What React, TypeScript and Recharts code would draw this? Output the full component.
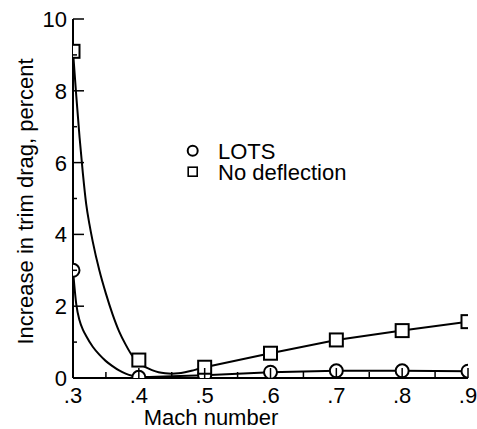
import { ComposedChart, Line, XAxis, YAxis, Legend } from "recharts";

// marker data
const mach = [0.3, 0.4, 0.5, 0.6, 0.7, 0.8, 0.9];
const lotsDrag = [3.0, 0.02, 0.08, 0.16, 0.2, 0.2, 0.19];
const noDeflDrag = [9.1, 0.5, 0.3, 0.69, 1.06, 1.32, 1.57];

// faired curves (low Mach end)
const lotsFitMach = [0.3, 0.305, 0.31, 0.315, 0.32, 0.33, 0.34, 0.35, 0.36, 0.37, 0.38, 0.39, 0.4, 0.45, 0.5];
const lotsFitDrag = [3.0, 2.05, 1.6, 1.35, 1.17, 0.87, 0.65, 0.47, 0.33, 0.21, 0.12, 0.06, 0.03, 0.05, 0.08];
const noDeflFitMach = [0.3, 0.305, 0.31, 0.315, 0.32, 0.325, 0.33, 0.34, 0.35, 0.36, 0.37, 0.38, 0.39, 0.4, 0.41, 0.42, 0.43, 0.44, 0.45, 0.46, 0.47, 0.48, 0.49, 0.5];
const noDeflFitDrag = [9.1, 7.85, 6.7, 5.7, 4.85, 4.28, 3.8, 3.0, 2.35, 1.78, 1.3, 0.93, 0.62, 0.42, 0.3, 0.22, 0.16, 0.13, 0.12, 0.13, 0.16, 0.2, 0.25, 0.3];

const machTicks = [0.3, 0.35, 0.4, 0.45, 0.5, 0.55, 0.6, 0.65, 0.7, 0.75, 0.8, 0.85, 0.9];
const dragTicks = [0, 1, 2, 3, 4, 5, 6, 7, 8, 9, 10];
const seriesNames = ["LOTS", "No deflection"];

const pts = (xs: number[], ys: number[]) => xs.map((x, i) => ({ x, y: ys[i] }));

const lotsPts = pts(mach, lotsDrag);
const noDeflPts = pts(mach, noDeflDrag);
const lotsFit = pts(lotsFitMach, lotsFitDrag);
const noDeflFit = pts(noDeflFitMach, noDeflFitDrag);

const FONT = "'Liberation Sans', Arial, Helvetica, sans-serif";

// let the chart fill the whole window
if (typeof document !== "undefined") {
  document.body.style.margin = "0";
}

function XTick(props: any) {
  const { x, y, payload } = props;
  const v = payload.value;
  const major = Math.abs(v * 10 - Math.round(v * 10)) < 1e-6;
  return (
    <g>
      <line x1={x} x2={x} y1={y} y2={y - (major ? 10 : 6)} stroke="#000" strokeWidth={1.5} />
      {major && (
        <text x={x} y={y + 25} textAnchor="middle" fontSize={22} fontFamily={FONT} fill="#000">
          {v.toFixed(1).replace(/^0/, "")}
        </text>
      )}
    </g>
  );
}

function YTick(props: any) {
  const { x, y, payload } = props;
  const v = payload.value;
  const major = v % 2 === 0;
  return (
    <g>
      <line x1={x} x2={x + (major ? 11 : 4)} y1={y} y2={y} stroke="#000" strokeWidth={1.5} />
      {major && (
        <text x={x - 6} y={y} dy="0.36em" textAnchor="end" fontSize={22} fontFamily={FONT} fill="#000">
          {v}
        </text>
      )}
    </g>
  );
}

const circleDot = (p: any) => (
  <circle key={p.index} cx={p.cx} cy={p.cy} r={6.5} fill="#fff" stroke="#000" strokeWidth={2} />
);
const squareDot = (p: any) => (
  <rect key={p.index} x={p.cx - 6.5} y={p.cy - 6.5} width={13} height={13} fill="#fff" stroke="#000" strokeWidth={2} />
);

function LegendBox() {
  return (
    <svg width={200} height={50}>
      <circle cx={14.7} cy={14.7} r={5} fill="none" stroke="#000" strokeWidth={2} />
      <text x={40} y={14.7} dy="0.36em" fontSize={22} fontFamily={FONT}>{seriesNames[0]}</text>
      <rect x={10.2} y={31.2} width={9} height={9} fill="none" stroke="#000" strokeWidth={1.6} />
      <text x={40} y={35.7} dy="0.36em" fontSize={22} fontFamily={FONT}>{seriesNames[1]}</text>
    </svg>
  );
}

export default function App() {
  return (
    <div style={{ fontFamily: FONT }}>
      <ComposedChart width={477} height={429} margin={{ top: 19, right: 9, left: 0, bottom: 0 }}>
        <XAxis
          type="number"
          dataKey="x"
          domain={[0.3, 0.9]}
          ticks={machTicks}
          interval={0}
          height={51}
          tickSize={0}
          tickMargin={0}
          tick={<XTick />}
          axisLine={{ stroke: "#000", strokeWidth: 2 }}
          allowDataOverflow
          label={() => (
            <text x={211} y={425} textAnchor="middle" fontSize={22} fontFamily={FONT} fill="#000">
              Mach number
            </text>
          )}
        />
        <YAxis
          type="number"
          domain={[0, 10]}
          ticks={dragTicks}
          interval={0}
          width={73}
          tickSize={0}
          tickMargin={0}
          tick={<YTick />}
          axisLine={{ stroke: "#000", strokeWidth: 2 }}
          allowDataOverflow
          label={() => (
            <text x={33} y={201.5} transform="rotate(-90 33 201.5)" textAnchor="middle" fontSize={22} fontFamily={FONT} fill="#000">
              Increase in trim drag, percent
            </text>
          )}
        />
        <Legend
          layout="horizontal"
          verticalAlign="middle"
          align="center"
          content={() => <LegendBox />}
          wrapperStyle={{ left: 178, top: 136, width: 200, height: 50 }}
        />
        <Line data={noDeflFit} dataKey="y" type="monotone" stroke="#000" strokeWidth={2} dot={false} activeDot={false} isAnimationActive={false} legendType="none" />
        <Line data={lotsFit} dataKey="y" type="monotone" stroke="#000" strokeWidth={2} dot={false} activeDot={false} isAnimationActive={false} legendType="none" />
        <Line data={noDeflPts.slice(2)} dataKey="y" type="linear" stroke="#000" strokeWidth={2} dot={false} activeDot={false} isAnimationActive={false} legendType="none" />
        <Line data={lotsPts.slice(2)} dataKey="y" type="linear" stroke="#000" strokeWidth={2} dot={false} activeDot={false} isAnimationActive={false} legendType="none" />
        <Line data={lotsPts} dataKey="y" name={seriesNames[0]} stroke="none" dot={circleDot} activeDot={false} isAnimationActive={false} />
        <Line data={noDeflPts} dataKey="y" name={seriesNames[1]} stroke="none" dot={squareDot} activeDot={false} isAnimationActive={false} />
      </ComposedChart>
    </div>
  );
}
